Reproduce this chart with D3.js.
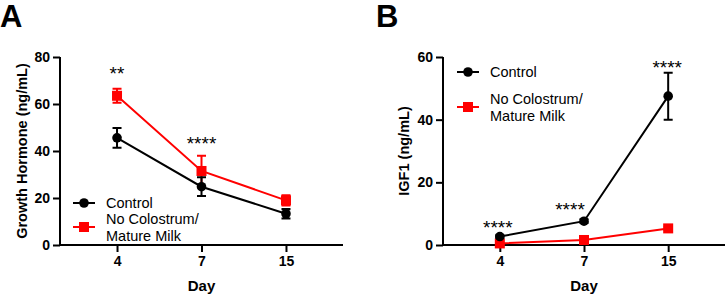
<!DOCTYPE html>
<html lang="en">
<head>
<meta charset="utf-8">
<script src="https://d3js.org/d3.v7.min.js"></script>
<style>
  body { margin: 0; background: #fff; }
  svg { font-family: "Liberation Sans", Arial, sans-serif; }
</style>
</head>
<body>
<svg id="chart" width="726" height="298"></svg>
<script>
// data
var days = ["4", "7", "15"]
var seriesNames = ["Control", "No Colostrum/|Mature Milk"]

var ghControl = [45.6, 24.8, 13.3]
var ghControlErr = [4.2, 4.0, 2.0]
var ghNoCol = [63.5, 31.5, 19.0]
var ghNoColErr = [3.0, 6.5, 2.2]
var ghTicks = [0, 20, 40, 60, 80]
var ghStars = ["**", "****", ""]

var igfControl = [2.7, 7.6, 47.5]
var igfControlErr = [0.4, 0.6, 7.5]
var igfNoCol = [0.5, 1.6, 5.3]
var igfNoColErr = [0.2, 0.3, 0.5]
var igfTicks = [0, 20, 40, 60]
var igfStars = ["****", "****", "****"]

var black = "#000000"
var red = "#ff0000"

var svg = d3.select("#chart")

function panel(opt) {
  var g = svg.append("g")

  var x = d3.scalePoint().domain(days).range([opt.left, opt.right]).padding(0.675)
  var y = d3.scaleLinear().domain([0, opt.ymax]).range([245, 57])

  // panel letter
  g.append("text")
    .attr("x", opt.letterX).attr("y", 27)
    .attr("font-size", 31).attr("font-weight", "bold")
    .text(opt.letter)

  // axes
  var yAxis = g.append("g")
    .attr("transform", "translate(" + opt.left + ",0)")
    .call(d3.axisLeft(y).tickValues(opt.ticks).tickSize(7).tickPadding(3))
  var xAxis = g.append("g")
    .attr("transform", "translate(0,245)")
    .call(d3.axisBottom(x).tickSize(7).tickPadding(4))
  ;[xAxis, yAxis].forEach(function(a) {
    a.select(".domain").attr("stroke-width", 2)
    a.selectAll(".tick line").attr("stroke-width", 2)
    a.selectAll(".tick text").attr("font-size", 14).attr("font-weight", "bold")
      .attr("font-family", "Liberation Sans, Arial, sans-serif")
  })
  yAxis.select(".domain").attr("d", "M0," + y(0) + "V" + y(opt.ymax))
  xAxis.select(".domain").attr("d", "M" + (opt.left - 1) + ",0H" + opt.right)

  // axis titles
  g.append("text")
    .attr("x", x("7")).attr("y", 291)
    .attr("text-anchor", "middle").attr("font-size", 15).attr("font-weight", "bold")
    .text("Day")
  g.append("text")
    .attr("transform", "translate(" + opt.ylabX + "," + y(opt.ymax / 2) + ") rotate(-90)")
    .attr("text-anchor", "middle").attr("font-size", 14.5).attr("font-weight", "bold")
    .text(opt.ylabel)

  var line = d3.line().x(function(d, i) { return x(days[i]) }).y(function(d) { return y(d) })

  var series = [
    { vals: opt.noCol, err: opt.noColErr, color: red, shape: "square" },
    { vals: opt.control, err: opt.controlErr, color: black, shape: "circle" }
  ]

  series.forEach(function(s) {
    var sg = g.append("g")
    // error bars
    s.vals.forEach(function(v, i) {
      var cx = x(days[i])
      sg.append("path")
        .attr("d", "M" + cx + "," + y(v - s.err[i]) + "V" + y(v + s.err[i]) +
          "M" + (cx - 4.5) + "," + y(v - s.err[i]) + "h9" +
          "M" + (cx - 4.5) + "," + y(v + s.err[i]) + "h9")
        .attr("stroke", s.color).attr("stroke-width", 2).attr("fill", "none")
    })
    sg.append("path").datum(s.vals)
      .attr("d", line).attr("fill", "none")
      .attr("stroke", s.color).attr("stroke-width", 2)
    s.vals.forEach(function(v, i) {
      drawMarker(sg, s.shape, x(days[i]), y(v), s.color)
    })
  })

  // significance stars
  opt.stars.forEach(function(st, i) {
    g.append("text")
      .attr("x", x(days[i]) + opt.starDx[i]).attr("y", opt.starY[i])
      .attr("text-anchor", "middle").attr("font-size", 19)
      .text(st)
  })

  // legend
  var lg = g.append("g").attr("transform", "translate(" + opt.legX + "," + opt.legY + ")")
  lg.append("line").attr("x1", 0).attr("x2", 22).attr("y1", 0).attr("y2", 0)
    .attr("stroke", black).attr("stroke-width", 2)
  drawMarker(lg, "circle", 11, 0, black)
  lg.append("text").attr("x", 33).attr("y", 5).attr("font-size", 14.5).text(seriesNames[0])

  var ry = opt.legGap
  lg.append("line").attr("x1", 0).attr("x2", 22).attr("y1", ry).attr("y2", ry)
    .attr("stroke", red).attr("stroke-width", 2)
  drawMarker(lg, "square", 11, ry, red)
  var parts = seriesNames[1].split("|")
  parts.forEach(function(p, k) {
    lg.append("text").attr("x", 33).attr("y", ry - 3 + k * 17).attr("font-size", 14.5).text(p)
  })
}

function drawMarker(sel, shape, cx, cy, color) {
  if (shape === "circle") {
    sel.append("circle").attr("cx", cx).attr("cy", cy).attr("r", 4.8).attr("fill", color)
  } else {
    sel.append("rect").attr("x", cx - 5).attr("y", cy - 5).attr("width", 10).attr("height", 10).attr("fill", color)
  }
}

panel({
  letter: "A", letterX: 0, left: 60, right: 343, ymax: 80, ticks: ghTicks,
  ylabel: "Growth Hormone (ng/mL)", ylabX: 27,
  control: ghControl, controlErr: ghControlErr, noCol: ghNoCol, noColErr: ghNoColErr,
  stars: ghStars, starY: [80, 150, 0], starDx: [0, 0, 0],
  legX: 73, legY: 203, legGap: 24
})

panel({
  letter: "B", letterX: 376, left: 443, right: 725, ymax: 60, ticks: igfTicks,
  ylabel: "IGF1 (ng/mL)", ylabX: 409,
  control: igfControl, controlErr: igfControlErr, noCol: igfNoCol, noColErr: igfNoColErr,
  stars: igfStars, starY: [234, 216, 74], starDx: [-2, -14, -1],
  legX: 457, legY: 72, legGap: 35
})
</script>
</body>
</html>
